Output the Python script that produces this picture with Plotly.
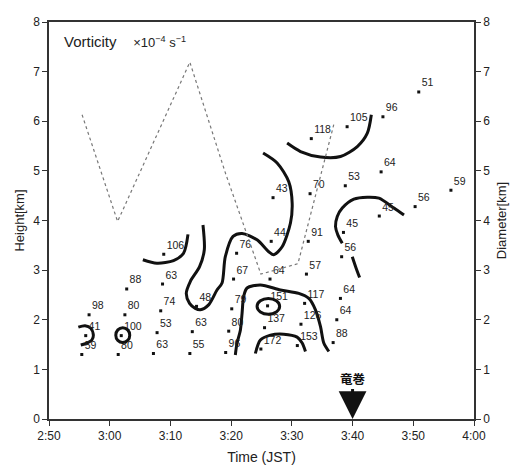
import plotly.graph_objects as go

# ---- data (time in minutes after 2:50 JST, height in km) ----
obs_time = [5.4, 6.05, 6.6, 11.4, 11.9, 12.5, 12.8, 17.2, 17.8, 18.4, 18.7, 18.9,
            23.2, 23.6, 24.3, 29.1, 29.6, 30.1, 30.4, 30.9, 34.9, 35.5, 36.0, 36.4,
            36.6, 36.9, 40.9, 41.5, 42.1, 42.4, 42.7, 43.0, 43.2, 46.8, 47.4, 48.0,
            48.2, 48.5, 48.8, 49.1, 54.4, 54.7, 55.0, 60.3, 60.9, 66.2]
obs_height = [1.30, 1.68, 2.10, 1.30, 1.68, 2.10, 2.62, 1.32, 1.74, 2.18, 2.72, 3.32,
              1.32, 1.76, 2.27, 1.34, 1.77, 2.22, 2.82, 3.34, 1.41, 1.84, 2.28, 2.82,
              3.58, 4.46, 1.48, 1.91, 2.33, 2.92, 3.58, 4.54, 5.65, 1.54, 2.00, 2.43,
              3.27, 3.76, 4.70, 5.89, 4.09, 4.98, 6.09, 4.28, 6.59, 4.61]
vorticity = [59, 41, 98, 80, 100, 80, 88, 63, 53, 74, 63, 106,
             55, 63, 48, 96, 80, 79, 67, 76, 172, 137, 151, 64,
             44, 43, 153, 126, 117, 57, 91, 70, 118, 88, 64, 64,
             56, 45, 53, 105, 45, 64, 96, 56, 51, 59]

# diameter (right axis)
diam_time = [5.45, 11.3, 23.2, 29.1, 34.9, 41.0, 46.9]
diameter = [6.13, 3.98, 7.19, 4.94, 2.92, 3.13, 5.93]

# vorticity contour lines (time, height)
contour_t = [
    [4.83, 5.94, 6.88, 7.31, 7.05, 6.22, 5.23],
    [15.46, 17.77, 20.51, 22.16, 22.89],
    [25.36, 25.58, 24.80, 23.27, 22.61, 23.15, 24.09, 24.92, 26.29, 27.67, 28.50,
     29.04, 30.31, 31.80, 34.27, 36.19, 37.01, 38.40, 39.77, 40.05, 39.49, 37.57, 35.26],
    [30.69, 30.97, 31.52, 31.80, 32.06, 32.62, 34.82, 38.12, 41.14, 42.79, 43.89,
     44.72, 45.26, 46.09],
    [33.99, 34.82, 36.47, 38.66, 40.87, 41.70, 42.24],
    [39.22, 41.42, 44.72, 48.02, 50.78, 52.43, 53.09],
    [48.30, 47.57, 47.19, 47.48, 48.30, 50.21, 52.43, 54.34, 56.82, 58.47],
    [49.95, 50.50, 51.16],
]
contour_h = [
    [1.85, 1.88, 1.83, 1.69, 1.59, 1.53, 1.49],
    [3.21, 3.14, 3.19, 3.34, 3.72],
    [3.91, 3.41, 3.07, 2.77, 2.53, 2.33, 2.23, 2.20, 2.30, 2.60, 2.74,
     3.27, 3.68, 3.74, 3.61, 3.37, 3.31, 3.47, 3.95, 4.35, 4.78, 5.16, 5.36],
    [1.29, 1.53, 1.79, 2.13, 2.47, 2.64, 2.70, 2.60, 2.53, 2.43, 2.20,
     1.86, 1.53, 1.36],
    [1.32, 1.59, 1.69, 1.71, 1.65, 1.53, 1.36],
    [5.56, 5.39, 5.28, 5.29, 5.49, 5.76, 6.13],
    [3.54, 3.71, 3.88, 4.08, 4.25, 4.43, 4.47, 4.45, 4.25, 4.11],
    [3.27, 3.07, 2.85],
]
# closed contour rings: (t0, t1, h0, h1)
rings = [(11.0, 13.3, 1.54, 1.84), (34.27, 37.99, 2.11, 2.43)]

tick_vals = [0, 10, 20, 30, 40, 50, 60, 70]
tick_text = ["2:50", "3:00", "3:10", "3:20", "3:30", "3:40", "3:50", "4:00"]
tornado_time = 50  # 3:40

FONT = "Liberation Sans, Arial, sans-serif"
INK = "#222222"

fig = go.Figure()

# diameter dotted line
fig.add_trace(go.Scatter(x=diam_time, y=diameter, mode="lines",
                         line=dict(color="#777777", width=1.2, dash="dot"),
                         yaxis="y2", showlegend=False, hoverinfo="skip"))

# contours
for ct, ch in zip(contour_t, contour_h):
    fig.add_trace(go.Scatter(x=ct, y=ch, mode="lines",
                             line=dict(color="#111111", width=3, shape="spline", smoothing=0.8),
                             showlegend=False, hoverinfo="skip"))
for (t0, t1, h0, h1) in rings:
    fig.add_shape(type="circle", xref="x", yref="y", x0=t0, x1=t1, y0=h0, y1=h1,
                  line=dict(color="#111111", width=3))

# observation points
fig.add_trace(go.Scatter(x=obs_time, y=obs_height, mode="markers+text",
                         marker=dict(symbol="square", size=3, color="#111111"),
                         text=[str(v) for v in vorticity], textposition="top right",
                         textfont=dict(family=FONT, size=10.5, color=INK),
                         showlegend=False, hoverinfo="skip"))

# tornado arrow
fig.add_annotation(x=tornado_time, y=0, xref="x", yref="y", ax=0, ay=-41,
                   text="<b>竜巻</b>", showarrow=True, arrowhead=2, arrowwidth=3,
                   arrowsize=1.85, arrowcolor="#111111",
                   font=dict(family="Noto Sans CJK JP", size=12.5, color="#111111"))

# title annotation
fig.add_annotation(x=0.03, y=0.95, xref="paper", yref="paper", xanchor="left", yanchor="middle",
                   showarrow=False,
                   text="Vorticity&nbsp;&nbsp;&nbsp;&nbsp;<span style='font-size:13px'>×10<sup>−4</sup> s<sup>−1</sup></span>",
                   font=dict(family=FONT, size=15, color=INK))

axis_common = dict(showline=True, linecolor="#333333", linewidth=1.5, ticks="outside",
                   ticklen=5, tickcolor="#333333", showgrid=False, zeroline=False,
                   automargin=False, tickfont=dict(family=FONT, size=12, color=INK))

fig.update_layout(
    width=517, height=466,
    margin=dict(l=49, r=43, t=22, b=47),
    paper_bgcolor="white", plot_bgcolor="white",
    xaxis=dict(range=[0, 70], tickvals=tick_vals, ticktext=tick_text, mirror=True,
               title=dict(text="Time (JST)", font=dict(family=FONT, size=14, color=INK), standoff=10),
               **axis_common),
    yaxis=dict(range=[0, 8], dtick=1,
               title=dict(text="Height[km]", font=dict(family=FONT, size=13, color=INK), standoff=6),
               **axis_common),
    yaxis2=dict(range=[0, 8], dtick=1, overlaying="y", side="right",
                title=dict(text="Diameter[km]", font=dict(family=FONT, size=13, color=INK), standoff=8),
                **axis_common),
)

fig.write_html("out.html")
